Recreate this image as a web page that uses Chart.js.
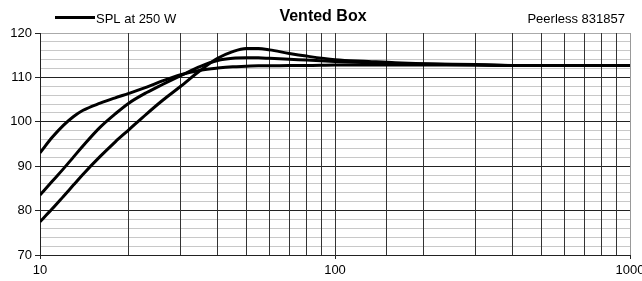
<!DOCTYPE html>
<html>
<head>
<meta charset="utf-8">
<script src="https://cdn.jsdelivr.net/npm/chart.js@4/dist/chart.umd.min.js"></script>
<style>
  html, body { margin: 0; padding: 0; background: #fff; }
  #wrap { width: 642px; height: 281px; }
</style>
</head>
<body>
<div id="wrap"><canvas id="splChart" width="642" height="281"></canvas></div>
<script>
// frequencias (Hz) y curvas SPL (dB)
const freqs = [10, 11, 12, 13, 14, 16, 18, 20, 23, 26, 30, 35, 40, 45, 50, 55, 60, 70, 80, 100, 130, 160, 200, 300, 400, 600, 1000];
const splA = [93, 96.5, 99.2, 101.2, 102.6, 104.2, 105.4, 106.4, 107.8, 109.2, 110.6, 111.6, 112.1, 112.4, 112.5, 112.6, 112.6, 112.7, 112.7, 112.8, 112.8, 112.8, 112.8, 112.8, 112.7, 112.7, 112.7];
const splB = [83.5, 86.6, 89.4, 92.1, 94.6, 98.8, 101.8, 104.2, 106.6, 108.4, 110.4, 112.5, 113.8, 114.3, 114.4, 114.4, 114.3, 114.1, 113.9, 113.6, 113.3, 113.1, 113, 112.8, 112.7, 112.7, 112.7];
const splC = [77.5, 80.4, 83.2, 85.8, 88.2, 92.2, 95.5, 98.2, 101.8, 104.8, 108, 111.6, 114.3, 115.8, 116.5, 116.5, 116.2, 115.4, 114.8, 114, 113.6, 113.3, 113.1, 112.9, 112.7, 112.7, 112.7];
const xTickLabels = [10, 100, 1000];
const yTickLabels = [70, 80, 90, 100, 110, 120];
const seriesLabel = 'SPL at 250 W';
const titleText = 'Vented Box';
const subtitleText = 'Peerless 831857';

const toPoints = vals => freqs.map((f, i) => ({ x: f, y: vals[i] }));
const lineStyle = { borderColor: '#000', backgroundColor: '#000', borderWidth: 3, pointRadius: 0, tension: 0.3, cubicInterpolationMode: 'monotone', fill: false };

// cabecera: leyenda, titulo y modelo
const header = {
  id: 'header',
  afterDraw(chart) {
    const c = chart.ctx;
    c.save();
    c.fillStyle = '#000';
    c.fillRect(55, 16, 40, 3);
    c.font = '13px "Liberation Sans", Arial, sans-serif';
    c.textBaseline = 'alphabetic';
    c.textAlign = 'left';
    c.fillText(seriesLabel, 96, 23);
    c.textAlign = 'right';
    c.fillText(subtitleText, 625, 23);
    c.font = 'bold 16px "Liberation Sans", Arial, sans-serif';
    c.textAlign = 'center';
    c.fillText(titleText, 323, 21);
    c.restore();
  }
};

const ctx = document.getElementById('splChart').getContext('2d');
new Chart(ctx, {
  type: 'line',
  data: {
    datasets: [
      { label: seriesLabel, data: toPoints(splA), ...lineStyle },
      { label: seriesLabel, data: toPoints(splB), ...lineStyle },
      { label: seriesLabel, data: toPoints(splC), ...lineStyle }
    ]
  },
  options: {
    responsive: false,
    animation: false,
    layout: { padding: { top: 33, right: 12, left: 0, bottom: 0 } },
    plugins: { legend: { display: false }, title: { display: false }, tooltip: { enabled: false } },
    scales: {
      // y primero para que las verticales queden encima de las lineas grises
      y: {
        min: 70, max: 120,
        border: { color: '#222', width: 1 },
        grid: {
          color: c => {
            const v = c.tick ? c.tick.value : 0;
            if (v === 120) return '#aaa';
            return yTickLabels.includes(v) ? '#222' : '#c8c8c8';
          },
          tickColor: c => c.tick && yTickLabels.includes(c.tick.value) ? '#222' : 'rgba(0,0,0,0)',
          tickLength: 5, lineWidth: 1
        },
        ticks: {
          stepSize: 2, autoSkip: false, color: '#000', padding: 3,
          font: { family: '"Liberation Sans", Arial, sans-serif', size: 13 },
          callback: v => yTickLabels.includes(v) ? String(v) : ''
        },
        afterFit: s => { s.width = 40; s.paddingTop = 0; s.paddingBottom = 0; }
      },
      x: {
        type: 'logarithmic', min: 10, max: 1000,
        border: { color: '#222', width: 1 },
        grid: {
          color: c => c.tick && c.tick.value === 1000 ? '#999' : '#333',
          tickColor: c => c.tick && xTickLabels.includes(c.tick.value) ? '#222' : 'rgba(0,0,0,0)',
          tickLength: 4, lineWidth: 1
        },
        ticks: {
          autoSkip: false, maxRotation: 0, color: '#000', padding: 4,
          font: { family: '"Liberation Sans", Arial, sans-serif', size: 13 },
          callback: v => xTickLabels.includes(v) ? String(v) : ''
        },
        afterFit: s => { s.height = 26; s.paddingLeft = 0; s.paddingRight = 0; }
      }
    }
  },
  plugins: [header]
});
</script>
</body>
</html>
